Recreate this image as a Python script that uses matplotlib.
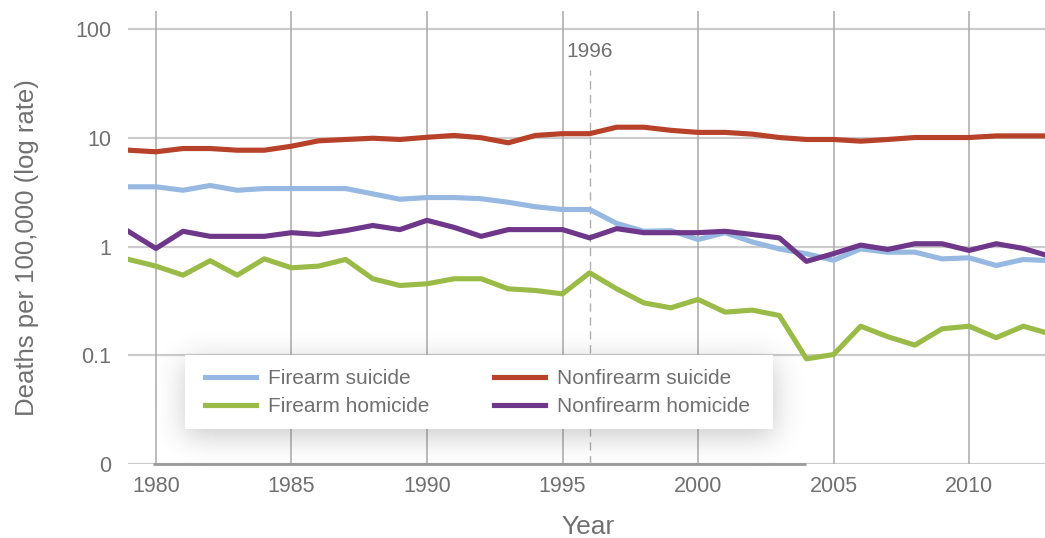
import numpy as np
import matplotlib
matplotlib.use("Agg")
import matplotlib.pyplot as plt
from matplotlib.patches import Rectangle
from matplotlib.ticker import FixedLocator, FixedFormatter

# ---- data (deaths per 100,000) ----
years = list(range(1979, 2014))

firearm_suicide = [3.54, 3.54, 3.29, 3.64, 3.29, 3.41, 3.41, 3.41, 3.41, 3.05,
                   2.72, 2.82, 2.82, 2.75, 2.55, 2.32, 2.19, 2.19, 1.63, 1.38,
                   1.40, 1.16, 1.34, 1.10, 0.95, 0.857, 0.748, 0.95, 0.887, 0.887,
                   0.77, 0.787, 0.669, 0.76, 0.74]
nonfirearm_suicide = [7.68, 7.43, 7.96, 7.96, 7.68, 7.68, 8.36, 9.37, 9.64, 9.9,
                      9.64, 10.1, 10.5, 10.0, 8.99, 10.5, 10.9, 10.9, 12.5, 12.5,
                      11.7, 11.2, 11.2, 10.8, 10.05, 9.64, 9.64, 9.3, 9.64, 10.05,
                      10.05, 10.05, 10.4, 10.4, 10.4]
firearm_homicide = [0.76, 0.66, 0.545, 0.74, 0.545, 0.77, 0.637, 0.66, 0.76, 0.505,
                    0.438, 0.454, 0.505, 0.505, 0.408, 0.394, 0.367, 0.573, 0.408, 0.303,
                    0.273, 0.326, 0.249, 0.26, 0.232, 0.0927, 0.1016, 0.185, 0.148, 0.124,
                    0.175, 0.185, 0.145, 0.185, 0.157]
nonfirearm_homicide = [1.37, 0.96, 1.38, 1.24, 1.24, 1.24, 1.34, 1.29, 1.40, 1.56,
                       1.43, 1.74, 1.50, 1.24, 1.43, 1.43, 1.43, 1.20, 1.46, 1.34,
                       1.34, 1.34, 1.38, 1.29, 1.20, 0.73, 0.86, 1.03, 0.94, 1.06,
                       1.06, 0.92, 1.06, 0.96, 0.81]

x_ticks = [1980, 1985, 1990, 1995, 2000, 2005, 2010]
y_ticks = [0.01, 0.1, 1, 10, 100]
y_tick_labels = ["0", "0.1", "1", "10", "100"]
marker_year = 1996

TEXT = "#707070"
plt.rcParams['font.family'] = ['Liberation Sans', 'DejaVu Sans']

W, H = 1045, 538
fig = plt.figure(figsize=(W / 100, H / 100), dpi=100)
ax_l, ax_b, ax_t = 128, 464, 11
ax_w, ax_h = W - ax_l, ax_b - ax_t
ax = fig.add_axes([ax_l / W, 1 - ax_b / H, ax_w / W, ax_h / H])
ax.set_yscale('log')

# grid
for yt in y_ticks:
    ax.axhline(yt, color="#cccccc", lw=1.6, zorder=1)
for xt in x_ticks:
    ax.axvline(xt, color="#aaaaaa", lw=1.1, zorder=1)
ax.plot([1979.9, 2004.0], [0.01, 0.01], color="#9a9a9a", lw=2, zorder=1.5,
        solid_capstyle='butt', clip_on=False)

# 1996 marker
ax.plot([marker_year, marker_year], [0.01, 42], color="#b0b0b0", lw=1,
        ls=(0, (6, 4)), zorder=1.5)
ax.text(marker_year, 62, str(marker_year), ha='center', va='center',
        fontsize=15, color=TEXT)

# legend box + blurred shadow (figure pixels)
lx0, lx1, ly0, ly1 = 185, 773, 355, 429
pad = 60
gx = np.arange(lx0 - pad, lx1 + pad)
gy = np.arange(ly0 - pad, ly1 + pad)
sig = 14.0
k = np.arange(-48, 49)
kern = np.exp(-k ** 2 / (2 * sig ** 2))
kern /= kern.sum()
bx = np.convolve(((gx >= lx0) & (gx <= lx1)).astype(float), kern, mode='same')
by = np.convolve(((gy >= ly0 + 6) & (gy <= ly1 + 6)).astype(float), kern, mode='same')
alpha = 0.28 * np.outer(by, bx)
img = np.zeros(alpha.shape + (4,))
img[..., :3] = 0.25
img[..., 3] = alpha
ext = [(gx[0] - ax_l) / ax_w, (gx[-1] + 1 - ax_l) / ax_w,
       (ax_b - (gy[-1] + 1)) / ax_h, (ax_b - gy[0]) / ax_h]
ax.imshow(img, extent=ext, transform=ax.transAxes, aspect='auto',
          origin='upper', zorder=2, interpolation='bilinear', clip_on=False)
ax.add_patch(Rectangle(((lx0 - ax_l) / ax_w, (ax_b - ly1) / ax_h),
                       (lx1 - lx0) / ax_w, (ly1 - ly0) / ax_h,
                       transform=ax.transAxes, facecolor='white',
                       edgecolor='none', zorder=4, clip_on=False))

# series
lw = 3.7
ax.plot(years, firearm_suicide, color="#97b9e1", lw=lw, label="Firearm suicide", zorder=3)
ax.plot(years, firearm_homicide, color="#9bbb48", lw=lw, label="Firearm homicide", zorder=3)
ax.plot(years, nonfirearm_suicide, color="#b8412a", lw=lw, label="Nonfirearm suicide", zorder=3)
ax.plot(years, nonfirearm_homicide, color="#6f3789", lw=lw, label="Nonfirearm homicide", zorder=3)

ax.set_xlim(1978.97, 2012.8)
ax.set_ylim(0.01, 146.4)

ax.xaxis.set_major_locator(FixedLocator(x_ticks))
ax.xaxis.set_minor_locator(FixedLocator([]))
ax.yaxis.set_major_locator(FixedLocator(y_ticks))
ax.yaxis.set_major_formatter(FixedFormatter(y_tick_labels))
ax.yaxis.set_minor_locator(FixedLocator([]))
ax.tick_params(length=0, labelsize=15.5, labelcolor=TEXT)
ax.tick_params(axis='x', pad=9)
ax.tick_params(axis='y', pad=12)
for s in ax.spines.values():
    s.set_visible(False)

ax.set_xlabel("Year", fontsize=19, color=TEXT)
ax.set_ylabel("Deaths per 100,000 (log rate)", fontsize=18.5, color=TEXT)
ax.xaxis.set_label_coords((588 - ax_l) / ax_w, -0.112)
ax.yaxis.set_label_coords((39 - ax_l) / ax_w, (ax_b - 248) / ax_h)

leg = ax.legend(ncol=2, loc='upper left',
                bbox_to_anchor=(205 / W, 1 - 369 / H), bbox_transform=fig.transFigure,
                fontsize=15, frameon=False, handlelength=2.45,
                handletextpad=0.58, columnspacing=3.1, labelspacing=0.45,
                borderpad=0, borderaxespad=0)
leg.set_zorder(5)
for t in leg.get_texts():
    t.set_color(TEXT)

fig.savefig("out.png", dpi=100)
